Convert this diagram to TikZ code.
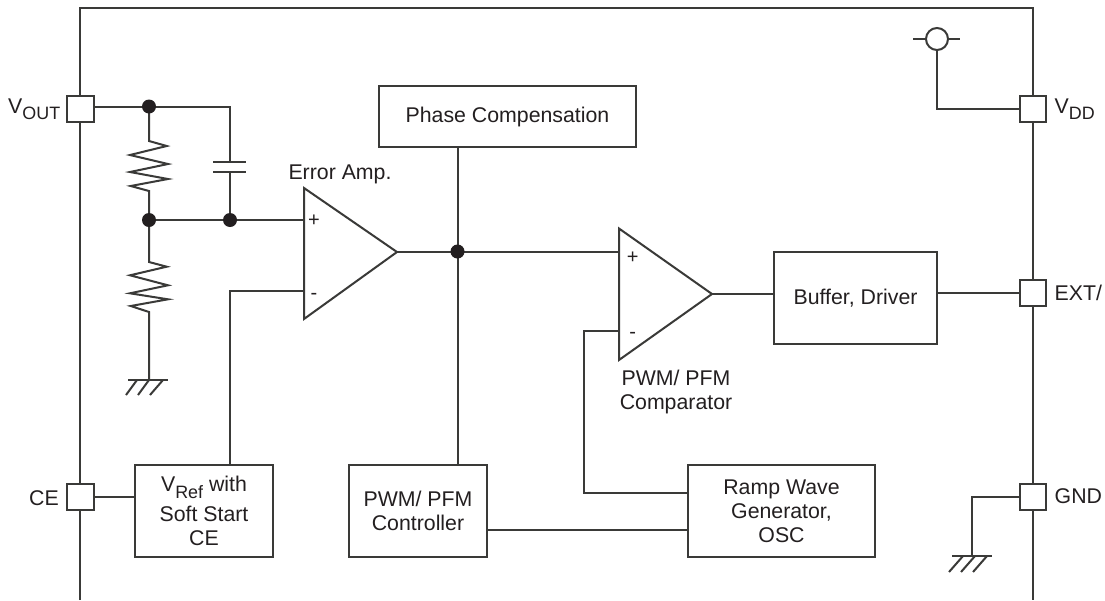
\documentclass[tikz,border=0pt]{standalone}
\usepackage{fontspec}
\setmainfont{Liberation Sans}
\newcommand{\sbs}[1]{{\fontsize{17.9}{20}\selectfont\raisebox{-6.6pt}{#1}}}
\definecolor{ink}{HTML}{3A3A38}
\definecolor{txt}{HTML}{231F20}
\tikzset{
  wire/.style={draw=ink,line width=2pt,line join=miter},
  blockbox/.style={draw=ink,line width=2pt,fill=white,inner sep=0pt,align=center,text=txt,font=\fontsize{21.3}{24}\selectfont},
  pin/.style={draw=ink,line width=2pt,fill=white,minimum height=26pt,inner sep=0pt},
  dot/.style={circle,fill=txt,draw=none,minimum size=14pt,inner sep=0pt},
  lbl/.style={text=txt,inner sep=0pt,align=center,font=\fontsize{21.3}{24}\selectfont},
  sign/.style={text=txt,inner sep=0pt,font=\fontsize{20}{22}\selectfont}
}
\begin{document}
\begin{tikzpicture}[x=1pt,y=-1pt]
\useasboundingbox (0,0) rectangle (1105,600);
\fill[white] (0,0) rectangle (1105,600);
% package outline
\coordinate (bl) at (80,600); \coordinate (tl) at (80,8);
\coordinate (tr) at (1033,8); \coordinate (br) at (1033,600);
\draw[wire] (bl) -- (tl) -- (tr) -- (br);
% pins
\node[pin,minimum width=27pt] (vout) at (80.5,109) {};
\node[pin,minimum width=27pt] (ce) at (80.5,497) {};
\node[pin,minimum width=26pt] (vdd) at (1033,109) {};
\node[pin,minimum width=26pt] (ext) at (1033,293) {};
\node[pin,minimum width=26pt] (gnd) at (1033,497) {};
% pin labels
\node[lbl,anchor=base west] (lvout) at (8,113) {V\sbs{OUT}};
\node[lbl,anchor=base west] (lce) at (29,505) {CE};
\node[lbl,anchor=base west] (lvdd) at (1054.5,113.3) {V\sbs{DD}};
\node[lbl,anchor=base west] (lext) at (1054.5,300.7) {EXT/};
\node[lbl,anchor=base west] (lgnd) at (1054.5,503) {GND};
% blocks
\node[blockbox,minimum width=257pt,minimum height=61pt] (phase) at (507.5,116.5) {Phase Compensation};
\node[blockbox,minimum width=138pt,minimum height=92pt] (vref) at (204,511) {V\sbs{Ref} with\\[6pt]Soft Start\\CE};
\node[blockbox,minimum width=138pt,minimum height=92pt] (pwm) at (418,511) {PWM/ PFM\\Controller};
\node[blockbox,minimum width=187pt,minimum height=92pt] (ramp) at (781.5,511) {Ramp Wave\\Generator,\\OSC};
\node[blockbox,minimum width=163pt,minimum height=92pt] (buf) at (855.5,298) {Buffer, Driver};
% op amps
\coordinate (a1t) at (304,188); \coordinate (a1b) at (304,319); \coordinate (a1o) at (397,252);
\coordinate (a1p) at (304,220); \coordinate (a1m) at (304,291);
\coordinate (a2t) at (619,228.5); \coordinate (a2b) at (619,360); \coordinate (a2o) at (712,294);
\coordinate (a2p) at (619,252); \coordinate (a2m) at (619,331);
\draw[wire] (a1t) -- (a1o) -- (a1b) -- cycle;
\draw[wire] (a2t) -- (a2o) -- (a2b) -- cycle;
\node[sign] (s1p) at (314,221) {+};
\node[sign] (s1m) at (314,296) {-};
\node[sign] (s2p) at (632.7,258) {+};
\node[sign] (s2m) at (632.7,335) {-};
\node[lbl,anchor=base] (lerr) at (340,179) {Error Amp.};
\node[lbl,anchor=north] (lcmp) at (676,369.6) {PWM/ PFM\\Comparator};
% upper network
\coordinate (n1) at (149,107); \coordinate (n2) at (149,220); \coordinate (n3) at (230,220); \coordinate (n4) at (458,252);
\coordinate (capt) at (230,162); \coordinate (capb) at (230,172);
\draw[wire] (vout.east |- n1) -- (n1) -| (capt);
\draw[wire] (213,162) -- (246,162);
\draw[wire] (213,172) -- (246,172);
\draw[wire] (capb) -- (n3);
\draw[wire] (n2) -- (a1p);
% resistors
\draw[wire] (n1) -- (149,141) -- (166.7,146) -- (130,155) -- (168,164) -- (130,172) -- (168,179) -- (130.7,186) -- (149,191) -- (n2);
\coordinate (g1) at (149,380);
\draw[wire] (n2) -- (149,262) -- (166.7,266.7) -- (130,275.3) -- (168,285.3) -- (130,293.3) -- (168,299.3) -- (130.7,306) -- (149,312) -- (g1);
\draw[wire] (128,380) -- (168,380);
\draw[wire] (137,380) -- (126,395) (149,380) -- (138,395) (163,380) -- (150,395);
% signal wires
\coordinate (vr) at (230,465);
\draw[wire] (a1m) -| (vr);
\draw[wire] (a1o) -- (a2p);
\draw[wire] (phase.south -| n4) -- (pwm.north -| n4);
\draw[wire] (a2o) -- (a2o -| buf.west);
\draw[wire] (buf.east |- ext) -- (ext.west);
\coordinate (rampin) at (688,493);
\draw[wire] (a2m) -| (584,493) -- (rampin);
\coordinate (pr) at (487,530); \coordinate (rl) at (688,530);
\draw[wire] (pr) -- (rl);
\draw[wire] (ce.east) -- (vref.west |- ce);
% junctions
\node[dot] (j1) at (149,106.5) {};
\node[dot] (j2) at (149,220) {};
\node[dot] (j3) at (230,220) {};
\node[dot] (j4) at (457.5,251.5) {};
% VDD
\node[circle,draw=ink,line width=2pt,minimum size=22pt,inner sep=0pt] (sup) at (937,39) {};
\draw[wire] (913,39) -- (sup.west) (sup.east) -- (960,39);
\draw[wire] (sup.south) |- (vdd.west);
% GND
\coordinate (g2) at (972,556);
\draw[wire] (gnd.west) -| (g2);
\draw[wire] (952,556) -- (992,556);
\draw[wire] (963,556) -- (949,572) (975,556) -- (961,572) (987,556) -- (973,572);
\end{tikzpicture}
\end{document}
